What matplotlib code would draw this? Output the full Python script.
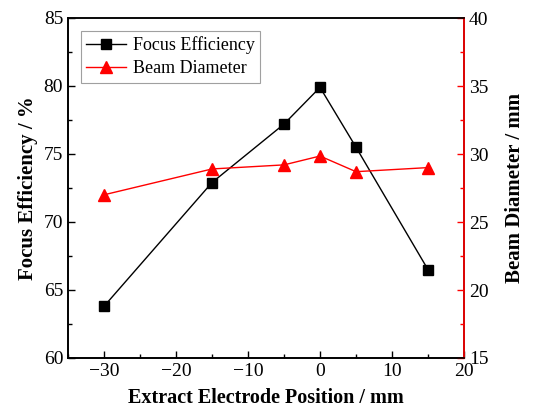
import matplotlib

matplotlib.use("Agg")
import matplotlib.pyplot as plt
from matplotlib.ticker import MultipleLocator

positions = [-30, -15, -5, 0, 5, 15]
focus_efficiency = [63.8, 72.9, 77.2, 79.9, 75.5, 66.5]
beam_diameter = [27.0, 28.9, 29.2, 29.85, 28.7, 29.0]

plt.rcParams["font.family"] = ["Liberation Serif", "DejaVu Serif"]


def main():
    fig = plt.figure(figsize=(5.47, 4.09), dpi=100)
    ax = fig.add_axes([68 / 547, 1 - 358 / 409, 396 / 547, 340 / 409])
    ax2 = ax.twinx()

    l1, = ax.plot(positions, focus_efficiency, "-s", color="black", lw=1,
                  ms=7, label="Focus Efficiency")
    l2, = ax2.plot(positions, beam_diameter, "-^", color="red", lw=1,
                   ms=8, label="Beam Diameter")

    ax.set_xlim(-35, 20)
    ax.set_ylim(60, 85)
    ax2.set_ylim(15, 40)
    ax.xaxis.set_major_locator(MultipleLocator(10))
    ax.xaxis.set_minor_locator(MultipleLocator(5))
    ax.yaxis.set_major_locator(MultipleLocator(5))
    ax.yaxis.set_minor_locator(MultipleLocator(2.5))
    ax2.yaxis.set_major_locator(MultipleLocator(5))
    ax2.yaxis.set_minor_locator(MultipleLocator(2.5))

    for a in (ax, ax2):
        for s in a.spines.values():
            s.set_linewidth(1.2)
    ax2.spines["right"].set_color("red")
    ax.spines["top"].set_color("#333333")

    ax.tick_params(axis="both", which="major", direction="in", length=5,
                   width=1, labelsize=14, top=False, right=False)
    ax.tick_params(axis="both", which="minor", direction="in", length=3,
                   width=1, top=False, right=False)
    ax2.tick_params(axis="y", which="major", direction="in", length=5,
                    width=1, labelsize=14, color="red")
    ax2.tick_params(axis="y", which="minor", direction="in", length=3,
                    width=1, color="red")

    ax.set_xticklabels([f"\u2212{abs(int(t))}" if t < 0 else f"{int(t)}"
                        for t in ax.get_xticks()])

    ax.set_xlabel("Extract Electrode Position / mm", fontsize=14.5,
                  fontweight="bold", labelpad=6)
    ax.set_ylabel("Focus Efficiency / %", fontsize=15, fontweight="bold")
    ax2.set_ylabel("Beam Diameter / mm", fontsize=15, fontweight="bold",
                   labelpad=12)

    leg = ax.legend(handles=[l1, l2], loc="upper left", fontsize=13,
                    frameon=True, fancybox=False, edgecolor="#888888",
                    handlelength=2.2, borderaxespad=0.7, borderpad=0.3,
                    labelspacing=0.35, handletextpad=0.4)
    leg.get_frame().set_linewidth(0.8)

    fig.savefig("out.png", dpi=100)


if __name__ == "__main__":
    main()
